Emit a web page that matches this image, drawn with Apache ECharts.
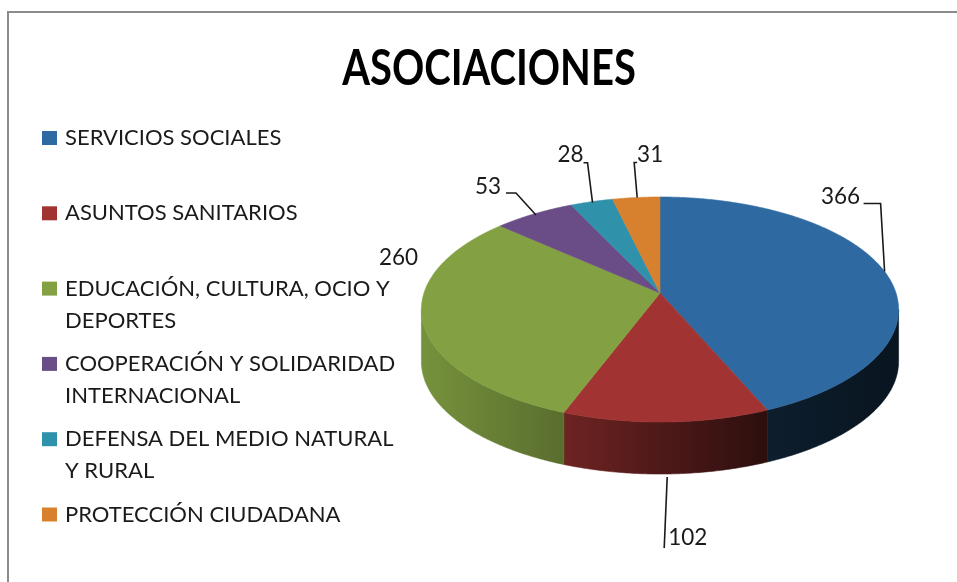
<!DOCTYPE html>
<html><head><meta charset="utf-8">
<script src="https://cdn.jsdelivr.net/npm/echarts/dist/echarts.min.js"></script>
<style>html,body{margin:0;padding:0;background:#fff}#c{width:957px;height:582px}</style>
</head><body><div id="c"></div>
<script>
// ---- data ----
const titleText = 'ASOCIACIONES';
const categories = ['SERVICIOS SOCIALES', 'ASUNTOS SANITARIOS', 'EDUCACIÓN, CULTURA, OCIO Y DEPORTES',
  'COOPERACIÓN Y SOLIDARIDAD INTERNACIONAL', 'DEFENSA DEL MEDIO NATURAL Y RURAL', 'PROTECCIÓN CIUDADANA'];
const values = [366, 102, 260, 53, 28, 31];
const colors = ['#2e6aa1', '#a13432', '#83a143', '#6a4c87', '#2f91aa', '#d7802d'];

// ---- layout (not data) ----
const CX = 660, CY = 293, RX = 236, RY = 110.1, PK = 0.1467, DEPTH = 52;
// label text centre offsets from the slice rim anchor, and leader polylines (relative to anchor)
const labelOffsets = [[-44, -75], [21, 64], [-24, -62], [-46, -27], [-21, -47], [14, -43]];
const leaderPaths = [
  [[0, 0], [-4, -68], [-21, -68]],
  [[1, 3], [-2, 74]],
  null,
  [[2, 1], [-18, -21], [-28, -21]],
  [[1, 1], [-4, -39], [-8, -39]],
  [[1, 0], [-2, -35], [1, -35]]
];

const total = values.reduce((a, b) => a + b, 0);
function P(t) {
  const s = Math.sin(t), c = Math.cos(t), d = 1 + PK * c;
  return [CX + RX * s / d, CY - RY * c / d];
}
function shade(hex, f) {
  const n = parseInt(hex.slice(1), 16);
  const r = Math.round(((n >> 16) & 255) * f), g = Math.round(((n >> 8) & 255) * f), b = Math.round((n & 255) * f);
  return 'rgb(' + r + ',' + g + ',' + b + ')';
}
const tR = Math.acos(-PK), tL = 2 * Math.PI - tR;

function renderItem(params, api) {
  const i = params.dataIndex;
  const v = api.value(0);
  let start = 0;
  for (let j = 0; j < i; j++) start += values[j];
  const a0 = start / total * 2 * Math.PI, a1 = (start + v) / total * 2 * Math.PI;
  const children = [];
  // top face
  const top = [[CX, CY]];
  const n = Math.max(2, Math.ceil((a1 - a0) / 0.01));
  for (let k = 0; k <= n; k++) top.push(P(a0 + (a1 - a0) * k / n));
  children.push({ type: 'polygon', z2: 10, shape: { points: top },
    style: { fill: colors[i], stroke: colors[i], lineWidth: 0.6 } });
  // outer wall (front only)
  const lo = Math.max(a0, tR), hi = Math.min(a1, tL);
  if (lo < hi) {
    const pts = [];
    const m = Math.max(2, Math.ceil((hi - lo) / 0.01));
    for (let k = 0; k <= m; k++) pts.push(P(lo + (hi - lo) * k / m));
    for (let k = m; k >= 0; k--) { const p = P(lo + (hi - lo) * k / m); pts.push([p[0], p[1] + DEPTH]); }
    const grad = new echarts.graphic.LinearGradient(CX - RX, 0, CX + RX, 0, [
      { offset: 0, color: shade(colors[i], 0.9) },
      { offset: 0.3, color: shade(colors[i], 0.68) },
      { offset: 0.72, color: shade(colors[i], 0.28) },
      { offset: 1, color: shade(colors[i], 0.2) }
    ], true);
    children.push({ type: 'polygon', z2: 1, shape: { points: pts }, style: { fill: grad, stroke: grad, lineWidth: 0.6 } });
  }
  // label
  const mid = (a0 + a1) / 2;
  let anc = P(mid);
  if (Math.cos(mid) < -0.9) anc = [anc[0], anc[1] + DEPTH];
  const off = labelOffsets[i];
  const isLeftAligned = i === 1;
  children.push({ type: 'text', z2: 20,
    style: { text: String(v), x: anc[0] + off[0] - (isLeftAligned ? 19 : 0), y: anc[1] + off[1],
      align: isLeftAligned ? 'left' : 'center', verticalAlign: 'middle',
      textAlign: isLeftAligned ? 'left' : 'center', textVerticalAlign: 'middle',
      font: '22.5px Lato', fill: '#1a1a1a' } });
  if (leaderPaths[i]) {
    children.push({ type: 'polyline', z2: 20,
      shape: { points: leaderPaths[i].map(p => [anc[0] + p[0], anc[1] + p[1]]) },
      style: { stroke: '#1a1a1a', lineWidth: 1.6, fill: null } });
  }
  return { type: 'group', children };
}

const graphics = [
  { type: 'rect', shape: { x: 8, y: 12, width: 1000, height: 700 }, style: { fill: null, stroke: '#8c8c8c', lineWidth: 2 }, silent: true },
  { type: 'text', x: 489, y: 69, scaleX: 0.8, style: { text: titleText, x: 0, y: 0, align: 'center', verticalAlign: 'middle',
      textAlign: 'center', textVerticalAlign: 'middle', font: 'bold 50px Lato', fill: '#000' } }
];
categories.forEach((name, i) => {
  const y = 138 + 75.3 * i;
  graphics.push({ type: 'rect', shape: { x: 42, y: y - 7, width: 15, height: 14 }, style: { fill: colors[i] } });
  graphics.push({ type: 'text', style: { text: name, x: 65, y: y - 16, width: 345, overflow: 'break', lineHeight: 32,
    align: 'left', verticalAlign: 'top', textAlign: 'left', textVerticalAlign: 'top', font: '22px Lato', fill: '#1a1a1a' } });
});

const chart = echarts.init(document.getElementById('c'));
chart.setOption({
  animation: false,
  backgroundColor: '#fff',
  graphic: graphics,
  series: [{ type: 'custom', coordinateSystem: 'none', renderItem, data: values.map(v => [v]) }]
});
</script></body></html>
